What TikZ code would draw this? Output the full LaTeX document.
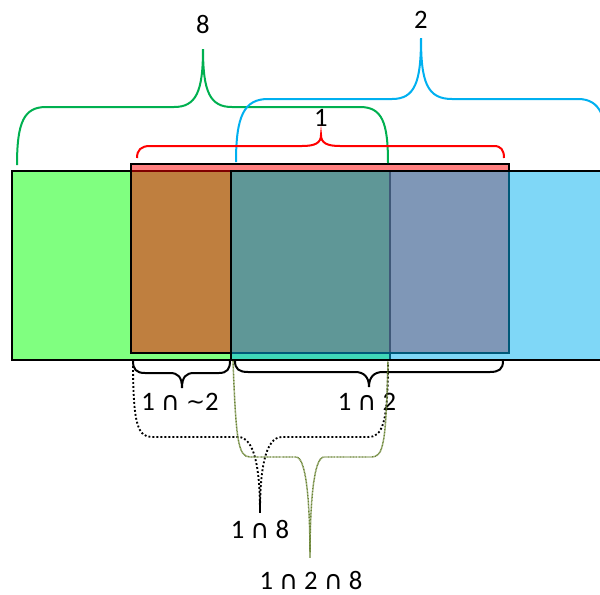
\documentclass[tikz,border=0pt]{standalone}
\usepackage{fontspec}
\setmainfont{Carlito}
\newfontfamily\capfont{DejaVu Sans}
\newcommand{\inter}{{\capfont\fontsize{19.5}{22}\selectfont ∩}}
\newcommand{\compl}{{\capfont\fontsize{17}{20}\selectfont \raisebox{0.5pt}{\char"223C}}}
\definecolor{setgreen}{HTML}{80FF80}
\definecolor{setred}{HTML}{FF0000}
\definecolor{setblue}{HTML}{00B0F0}
\definecolor{bracegreen}{HTML}{00B050}
\definecolor{braceblue}{HTML}{00B0F0}
\definecolor{olivebrace}{HTML}{6B8535}
\begin{document}
\begin{tikzpicture}[x=0.75pt,y=-0.75pt,
  lbl/.style={font=\fontsize{20}{24}\selectfont, inner sep=0pt, anchor=base},
  setbox/.style={draw=black, line width=1.5pt},
  bracepath/.style={line width=1.5pt},
  dotbrace/.style={line width=1.4pt, dash pattern=on 1.4pt off 1.6pt},
  finedot/.style={draw=olivebrace, line width=1.1pt, dash pattern=on 0.7pt off 0.4pt}]
\useasboundingbox (0,0) rectangle (600,594);
\clip (0,0) rectangle (600,594);

% the three sets
\fill[white] (0,0) rectangle (600,594);
\draw[setbox, fill=setgreen] (12,171) rectangle (390,360);
\draw[setbox, fill=setred, fill opacity=0.5] (131,164) rectangle (509,353);
\draw[setbox, fill=setblue, fill opacity=0.5] (231,171) rectangle (620,360);

% labels
\node[lbl] (l8) at (203,33) {8};
\node[lbl] (l2) at (421,28) {2};
\node[lbl] (l1) at (321,126) {1};
\node[lbl] (ln2) at (180,410) {1 \inter{} \compl{}2};
\node[lbl] (l12) at (367,410) {1 \inter{} 2};
\node[lbl] (l18) at (260,538) {1 \inter{} 8};
\node[lbl] (l128) at (311,589) {1 \inter{} 2 \inter{} 8};

% brace tips
\coordinate (t8) at (203,49);
\coordinate (t2) at (421,38);
\coordinate (t1) at (321,135);
\coordinate (tn2) at (182,388);
\coordinate (t12) at (369,387);
\coordinate (t18) at (260,513);
\coordinate (t128) at (310,558);

% set 8
\draw[bracepath, bracegreen] (17,165) .. controls (17,122) and (24,107) .. (46,107) -- (174,107)
  .. controls (196,107) and (203,92) .. (t8)
  .. controls (203,92) and (210,107) .. (232,107) -- (360,107)
  .. controls (382,107) and (388,122) .. (388,163);
% set 2
\draw[bracepath, braceblue] (236,162) .. controls (236,116) and (244,99) .. (268,99) -- (392,99)
  .. controls (415,99) and (421,82) .. (t2)
  .. controls (421,82) and (427,99) .. (452,99) -- (578,99)
  .. controls (600,99) and (608,116) .. (608,162);
% set 1
\draw[bracepath, red] (137,158) .. controls (137,150) and (141,146) .. (150,146) -- (302,146)
  .. controls (315,146) and (321,143) .. (t1)
  .. controls (321,143) and (327,146) .. (340,146) -- (494,146)
  .. controls (501,146) and (504,150) .. (504,158);

% 1 minus 2
\draw[bracepath, black] (133,361) .. controls (133,369) and (136,373) .. (145,373) -- (170,373)
  .. controls (178,373) and (182,377) .. (tn2)
  .. controls (182,377) and (186,373) .. (194,373) -- (219,373)
  .. controls (227,373) and (230,369) .. (230,361);
% 1 and 2
\draw[bracepath, black] (235,361) .. controls (235,369) and (239,372) .. (248,372) -- (355,372)
  .. controls (364,372) and (369,377) .. (t12)
  .. controls (369,377) and (374,372) .. (383,372) -- (490,372)
  .. controls (499,372) and (503,369) .. (503,361);
% 1 and 8
\draw[dotbrace, black] (133,362) .. controls (133,425) and (138,437) .. (152,437) -- (238,437)
  .. controls (255,437) and (260,470) .. (t18)
  .. controls (260,470) and (265,437) .. (282,437) -- (368,437)
  .. controls (382,437) and (388,425) .. (388,362);
% 1 and 2 and 8
\draw[finedot] (233,361) .. controls (236,440) and (238,457) .. (250,457) -- (296,457)
  .. controls (306,457) and (310,500) .. (t128)
  .. controls (310,500) and (314,457) .. (324,457) -- (372,457)
  .. controls (384,457) and (386,440) .. (388,361);
\end{tikzpicture}
\end{document}
